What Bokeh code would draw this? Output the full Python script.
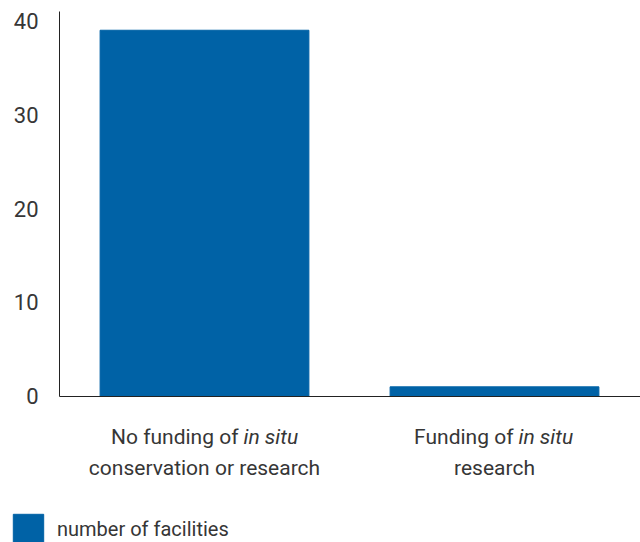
from bokeh.plotting import figure
from bokeh.models import (ColumnDataSource, Range1d, FixedTicker, Legend, LegendItem, LinearAxis)
from bokeh.core.properties import value
from bokeh.embed import file_html
from bokeh.resources import INLINE

categories = ["No funding of in situ conservation or research", "Funding of in situ research"]
counts = [39, 1]
series_name = "number of facilities"
y_ticks = [0, 10, 20, 30, 40]
line1_normal = ["No funding of", "Funding of"]
line1_italic = ["in situ", "in situ"]
line2 = ["conservation or research", "research"]

FONT = "Roboto"
TXT = "#363636"
BLUE = "#0062a6"
AXIS = "#222222"

# category slots: category i is centred at i + 0.5
xpos = [i + 0.5 for i in range(len(categories))]
n_cat = len(categories)
Y_AXIS_TOP = 41

src = ColumnDataSource(dict(x=xpos, cat=categories, n=counts))

p = figure(x_range=Range1d(-59 / 290, n_cat + 1 / 290), y_range=Range1d(-15.59, 42.17),
           width=640, height=542, output_backend="svg", toolbar_location=None,
           x_axis_location=None, y_axis_location=None,
           min_border_left=0, min_border_right=0, min_border_top=0, min_border_bottom=0)
p.outline_line_color = None
p.grid.visible = False

r = p.vbar(x="x", top="n", width=0.72, source=src, color=BLUE)

# y axis fixed at the left edge of the first category slot
yax = LinearAxis(fixed_location=0, bounds=(0, Y_AXIS_TOP), ticker=FixedTicker(ticks=y_ticks),
                 major_tick_out=0, major_tick_in=0, minor_tick_out=0, minor_tick_in=0,
                 major_label_standoff=21, major_label_text_font=FONT,
                 major_label_text_font_size="22px", major_label_text_color=TXT,
                 axis_line_color=AXIS)
p.add_layout(yax, "left")

# x baseline
xax = LinearAxis(fixed_location=0, bounds=(0, n_cat + 1 / 290), ticker=FixedTicker(ticks=[]),
                 major_tick_out=0, major_tick_in=0, minor_tick_out=0, minor_tick_in=0,
                 axis_line_color=AXIS)
p.add_layout(xax, "below")

# category labels (two lines, "in situ" in italics)
lab_size = "21px"
p.text(x=xpos, y=[-4.4] * n_cat, text=line1_normal, x_offset=[34, 19],
       text_align="right", text_baseline="middle", text_font=value(FONT),
       text_font_size=lab_size, text_color=TXT)
p.text(x=xpos, y=[-4.4] * n_cat, text=line1_italic, x_offset=[39, 24],
       text_align="left", text_baseline="middle", text_font=value(FONT),
       text_font_style="italic", text_font_size=lab_size, text_color=TXT)
p.text(x=xpos, y=[-7.6] * n_cat, text=line2,
       text_align="center", text_baseline="middle", text_font=value(FONT),
       text_font_size=lab_size, text_color=TXT)

legend = Legend(items=[LegendItem(label=series_name, renderers=[r])],
                location=(9, -6), padding=0, margin=0, spacing=0,
                glyph_width=38, glyph_height=38, label_standoff=10,
                label_text_font=FONT, label_text_font_size="20px", label_text_color=TXT,
                border_line_color=None, background_fill_alpha=0)
p.add_layout(legend, "center")

open("out.html", "w").write(file_html(p, INLINE))
